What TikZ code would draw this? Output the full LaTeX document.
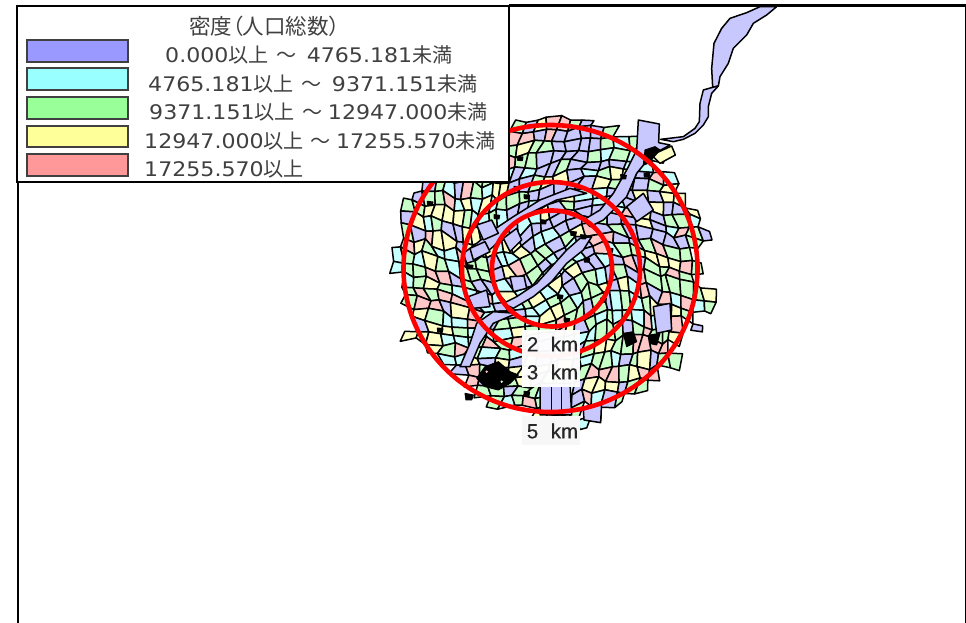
\documentclass[tikz,border=0pt]{standalone}
\usepackage{fontspec}
\setmainfont[FakeStretch=1.1]{DejaVu Sans}
\newfontfamily\cjk{Noto Sans CJK JP}
\newfontfamily\cjkp[RawFeature=+palt,Scale=1.07]{Noto Sans CJK JP}
\newfontfamily\kmfont[WordSpace=2.2,FakeBold=0.5]{Liberation Sans}
\definecolor{mapc0}{HTML}{C8C8FF}
\definecolor{mapc1}{HTML}{C8FFFF}
\definecolor{mapc2}{HTML}{C8FFC8}
\definecolor{mapc3}{HTML}{FFFFC8}
\definecolor{mapc4}{HTML}{FFC8C8}
\definecolor{legc0}{HTML}{9999FF}
\definecolor{legc1}{HTML}{99FFFF}
\definecolor{legc2}{HTML}{99FF99}
\definecolor{legc3}{HTML}{FFFF99}
\definecolor{legc4}{HTML}{FF9999}
\definecolor{txt}{HTML}{404040}
\tikzset{
  cell/.style={draw=black,line width=1.5pt,line join=round},
  water/.style={cell,fill=mapc0},
  blot/.style={fill=black,draw=black,line width=1pt,line join=round},
  ring/.style={draw=red,line width=4.6pt},
  swatch/.style={draw=black!75,line width=1.2pt},
  legtext/.style={anchor=base west,inner sep=0pt,text=txt,font=\fontsize{20.1}{24}\selectfont},
  kmlabel/.style={inner sep=0pt,text=black!85,font=\kmfont\fontsize{20.5}{24}\selectfont},
  zoomA/.style={shift={(370,100)},x=0.33333pt,y=-0.33333pt},
  zoomB/.style={shift={(640,0)},x=0.33333pt,y=-0.33333pt}
}
\begin{document}
\begin{tikzpicture}[x=1pt,y=-1pt]
\useasboundingbox (0,0) rectangle (966,623);
\fill[white] (0,0) rectangle (966,623);
\pgfmathsetseed{11}
% vertices of a warped cell mesh
\foreach \i in {0,...,32}{\foreach \j in {0,...,32}{
  \pgfmathsetmacro\uu{(\i-16)*11.5+rand*3.4}
  \pgfmathsetmacro\vv{(\j-16)*11.5+rand*3.4}
  \pgfmathsetmacro\rr{sqrt((\uu/85)*(\uu/85)+(\vv/85)*(\vv/85))}
  \pgfmathsetmacro\aa{-40*exp(-\rr*\rr)}
  \pgfmathsetmacro\xx{552+\uu*cos(\aa)-\vv*sin(\aa)}
  \pgfmathsetmacro\yy{268+\uu*sin(\aa)+\vv*cos(\aa)}
  \coordinate (v-\i-\j) at (\xx,\yy);
}}
% cells
\foreach \i [evaluate=\i as \ii using int(\i+1)] in {0,...,31}{
 \foreach \j [evaluate=\j as \jj using int(\j+1)] in {0,...,31}{
  \pgfmathsetmacro\rr{11.5*sqrt((\i-15.5)*(\i-15.5)+(\j-15.5)*(\j-15.5))}
  \pgfmathparse{(\rr<(140+rnd*22))&&(\j>2)?1:0}
  \ifnum\pgfmathresult=1
    \pgfmathsetmacro\pp{rnd}
    \pgfmathparse{(\i>15)&&(\j<15)&&(\rr<135)?(\pp<.5?0:(\pp<.66?1:(\pp<.84?2:(\pp<.93?3:4)))):(\rr<95?(\pp<.22?0:(\pp<.52?1:(\pp<.80?2:(\pp<.93?3:4)))):(\pp<.15?0:(\pp<.33?1:(\pp<.62?2:(\pp<.83?3:4)))))}
    \pgfmathtruncatemacro\cc{\pgfmathresult}
    \filldraw[cell,fill=mapc\cc] (v-\i-\j) -- (v-\ii-\j) -- (v-\ii-\jj) -- (v-\i-\jj) -- cycle;
  \fi
 }}
% water bodies and large blocks (zoomed-crop coordinates)
\begin{scope}[zoomA]
\filldraw[water] (805,60)--(868,72)--(866,128)--(900,135)--(845,165)--(800,220)--(770,290)--(730,330)--(700,360)--(660,380)--(640,360)--(690,330)--(730,280)--(770,210)--(800,150)--cycle;
\filldraw[water] (665,410)--(640,450)--(590,490)--(545,545)--(490,590)--(430,625)--(400,610)--(440,590)--(500,550)--(545,500)--(590,450)--(630,415)--cycle;
\filldraw[water] (650,280)--(560,300)--(480,340)--(420,385)--(370,440)--(320,480)--(290,490)--(280,460)--(320,430)--(370,390)--(430,350)--(510,300)--(600,265)--cycle;
\filldraw[water] (440,640)--(370,635)--(320,670)--(300,730)--(270,800)--(300,800)--(330,730)--(370,670)--cycle;
\filldraw[water] (350,570)--(360,620)--(310,625)--(295,590)--cycle;
\filldraw[water] (320,375)--(365,360)--(385,400)--(340,420)--cycle;
\filldraw[water] (400,415)--(440,385)--(455,420)--(420,455)--cycle;
\filldraw[water] (420,530)--(462,528)--(470,565)--(430,575)--cycle;
\filldraw[water] (300,445)--(345,425)--(360,455)--(310,480)--cycle;
\filldraw[water] (510,850)--(600,850)--(605,945)--(510,945)--cycle;
\draw[cell] (545,860)--(545,945) (575,860)--(575,945);
\filldraw[water] (640,930)--(695,905)--(692,968)--(642,960)--cycle;
\filldraw[water] (820,280)--(850,330)--(800,365)--(770,320)--cycle;
\filldraw[water] (850,620)--(900,610)--(905,690)--(860,700)--cycle;
\filldraw[cell,fill=mapc3] (905,138)--(916,165)--(870,190)--(845,165)--cycle;
% dense black patches
\filldraw[blot] (345,800)--(385,785)--(420,815)--(445,825)--(420,850)--(385,870)--(345,860)--(320,835)--cycle;
\fill[mapc4] (350,815) circle [radius=4];
\fill[mapc2] (395,845) circle [radius=4];
\filldraw[blot] (285,880)--(310,885)--(305,900)--(288,900)--cycle;
\filldraw[blot] (760,700)--(790,695)--(800,725)--(770,740)--cycle;
\filldraw[blot] (840,705)--(870,700)--(860,735)--(838,730)--cycle;
\filldraw[blot] (825,150)--(855,140)--(870,150)--(835,190)--(820,195)--cycle;
\foreach \bx/\by in {450/175,470/290,520/365,380/350,650/480,300/500,570/590,700/600,720/450,180/310,640/410,440/265,760/230,830/225,210/690,470/880,590/660,610/400}{
  \filldraw[blot] (\bx-8,\by-6)--(\bx+9,\by-4)--(\bx+7,\by+7)--(\bx-7,\by+6)--cycle;
}
\end{scope}
% river to the north-east
\begin{scope}[zoomB]
\filldraw[water] (360,20)--(410,20)--(380,45)--(340,70)--(320,105)--(280,145)--(265,190)--(240,230)--(235,258)--(218,262)--(215,205)--(222,130)--(245,85)--(270,55)--(320,38)--cycle;
\filldraw[water] (218,262)--(235,258)--(215,280)--(205,320)--(205,350)--(190,375)--(165,400)--(130,418)--(100,425)--(62,418)--(130,410)--(165,385)--(178,365)--(180,310)--(190,270)--cycle;
\end{scope}
% distance rings
\draw[ring] (550.5,268.5) ellipse [x radius=147,y radius=143.5];
\draw[ring] (551,269) ellipse [x radius=89,y radius=87];
\draw[ring] (552,268.5) ellipse [x radius=60,y radius=58];
% labels
\fill[white,opacity=.96] (522,330) rectangle (580,387);
\fill[black!3] (522,416) rectangle (580,445);
\node[kmlabel] (km2) at (552.5,344) {2 km};
\node[kmlabel] (km3) at (552.5,372) {3 km};
\node[kmlabel] (km5) at (552.5,431) {5 km};
% frame
\draw[black,line width=2pt] (18,182) -- (18,623);
\draw[black,line width=3pt] (509,6) -- (966,6);
\draw[black,line width=1pt] (965.5,6) -- (965.5,623);
% legend
\filldraw[fill=white,draw=black,line width=1.4pt] (17,6) rectangle (509,182);
\filldraw[swatch,fill=legc0] (27,40) rectangle (128,62);
\filldraw[swatch,fill=legc1] (27,68) rectangle (128,90);
\filldraw[swatch,fill=legc2] (27,97) rectangle (128,119);
\filldraw[swatch,fill=legc3] (27,126) rectangle (128,147);
\filldraw[swatch,fill=legc4] (27,154) rectangle (128,176);
\node[legtext] (ltitle) at (189,35) {\cjkp 密度（人口総数）};
\node[legtext] (l0) at (165,62.5) {0.000{\cjk 以上}\hspace{8pt}{\cjk ～}\hspace{10pt}4765.181{\cjk 未満}};
\node[legtext] (l1) at (148,91.5) {4765.181{\cjk 以上}\hspace{8pt}{\cjk ～}\hspace{10pt}9371.151{\cjk 未満}};
\node[legtext] (l2) at (149,120) {9371.151{\cjk 以上}\hspace{8pt}{\cjk ～}\hspace{5pt}12947.000{\cjk 未満}};
\node[legtext] (l3) at (144,148.5) {12947.000{\cjk 以上}\hspace{7pt}{\cjk ～}\hspace{5pt}17255.570{\cjk 未満}};
\node[legtext] (l4) at (144,176.5) {17255.570{\cjk 以上}};
\end{tikzpicture}
\end{document}
